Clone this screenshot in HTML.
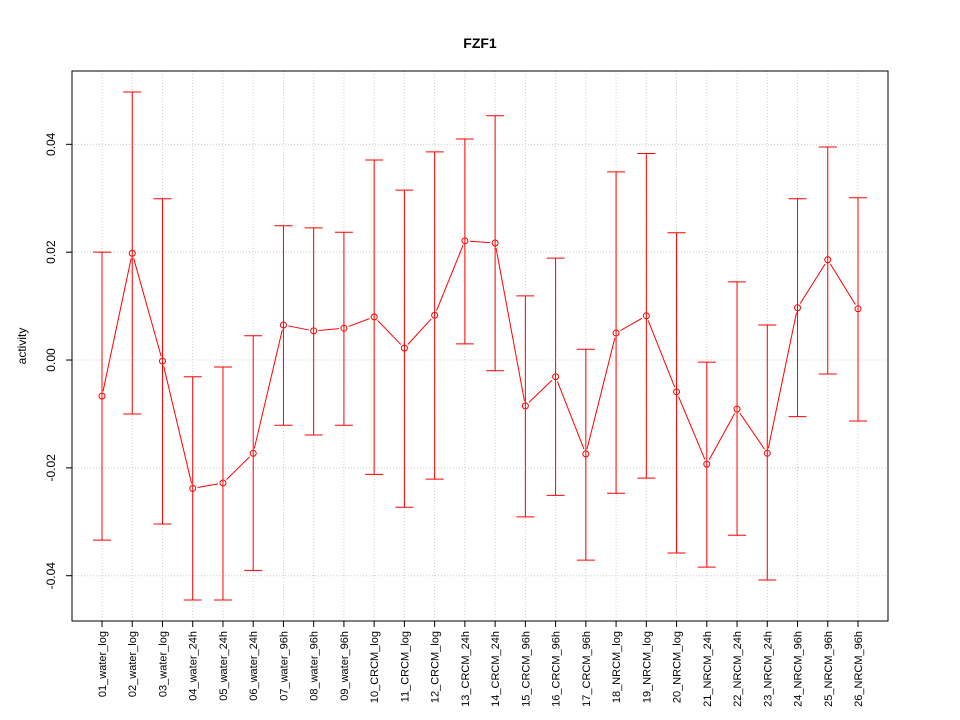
<!DOCTYPE html>
<html><head><meta charset="utf-8"><style>
body{margin:0;background:#fff}
svg{display:block;font-family:"Liberation Sans",sans-serif}
</style></head><body>
<svg id="chart" width="960" height="720" viewBox="0 0 960 720" xmlns="http://www.w3.org/2000/svg">
<rect width="960" height="720" fill="#fff"/>
<text x="480" y="48" text-anchor="middle" font-size="14" font-weight="bold">FZF1</text>
<g id="grid"></g>
<g id="series"></g>
<g id="axes"></g>
<rect x="72" y="71" width="816" height="550" fill="none" stroke="#000" stroke-width="1"/>
<text transform="translate(26,346) rotate(-90)" text-anchor="middle" font-size="12">activity</text>
</svg>
<script>
const categories=["01_water_log","02_water_log","03_water_log","04_water_24h","05_water_24h","06_water_24h","07_water_96h","08_water_96h","09_water_96h","10_CRCM_log","11_CRCM_log","12_CRCM_log","13_CRCM_24h","14_CRCM_24h","15_CRCM_96h","16_CRCM_96h","17_CRCM_96h","18_NRCM_log","19_NRCM_log","20_NRCM_log","21_NRCM_24h","22_NRCM_24h","23_NRCM_24h","24_NRCM_96h","25_NRCM_96h","26_NRCM_96h"];
const means=[-0.0067,0.0198,-0.0002,-0.0238,-0.0228,-0.0173,0.0065,0.0054,0.0059,0.0080,0.0022,0.0083,0.0221,0.0217,-0.0085,-0.0031,-0.0174,0.0050,0.0082,-0.0059,-0.0193,-0.0091,-0.0173,0.0097,0.0186,0.0095];
const uppers=[0.0200,0.0497,0.0299,-0.0031,-0.0013,0.0045,0.0249,0.0245,0.0237,0.0371,0.0315,0.0386,0.0410,0.0453,0.0119,0.0189,0.0020,0.0349,0.0383,0.0236,-0.0004,0.0145,0.0065,0.0299,0.0395,0.0301];
const lowers=[-0.0334,-0.0100,-0.0304,-0.0445,-0.0445,-0.0390,-0.0121,-0.0139,-0.0121,-0.0212,-0.0273,-0.0221,0.0030,-0.0020,-0.0291,-0.0251,-0.0371,-0.0247,-0.0219,-0.0358,-0.0384,-0.0325,-0.0408,-0.0105,-0.0026,-0.0113];
const yTicks=[-0.04,-0.02,0.00,0.02,0.04];
const yTickLabels=["-0.04","-0.02","0.00","0.02","0.04"];

const NS="http://www.w3.org/2000/svg";
const x0=102,x1=858,yTop=71,yBot=621,vTop=0.0536,vBot=-0.0484;
const xs=i=>x0+(x1-x0)*i/(categories.length-1);
const ys=v=>yTop+(vTop-v)/(vTop-vBot)*(yBot-yTop);
function mk(tag,attrs,parent){const e=document.createElementNS(NS,tag);for(const k in attrs)e.setAttribute(k,attrs[k]);parent.appendChild(e);return e;}
const grid=document.getElementById('grid'),ser=document.getElementById('series'),ax=document.getElementById('axes');
categories.forEach((c,i)=>{
  const g=mk('line',{x1:xs(i),x2:xs(i),y1:yTop,y2:yBot,stroke:'#ccc','stroke-dasharray':'1,2'},grid);
  
  
  const t=mk('line',{x1:xs(i),x2:xs(i),y1:yBot,y2:yBot+6,stroke:'#000'},ax);
  
  
  const l=mk('text',{x:0,y:0,transform:`translate(${xs(i)+4},${yBot+10}) rotate(-90)`,'text-anchor':'end','font-size':'11'},ax);
  l.textContent=c;
  
  
});
yTicks.forEach((v,i)=>{
  const g=mk('line',{x1:72,x2:888,y1:ys(v),y2:ys(v),stroke:'#ccc','stroke-dasharray':'1,2'},grid);
  
  
  const t=mk('line',{x1:66,x2:72,y1:ys(v),y2:ys(v),stroke:'#000'},ax);
  
  
  const l=mk('text',{x:0,y:0,transform:`translate(55,${ys(v)}) rotate(-90)`,'text-anchor':'middle','font-size':'12'},ax);
  l.textContent=yTickLabels[i];
  
  
});
for(let i=0;i<means.length-1;i++){
  const ax1=xs(i),ay1=ys(means[i]),bx=xs(i+1),by=ys(means[i+1]);
  const dx=bx-ax1,dy=by-ay1,d=Math.hypot(dx,dy),g=5;
  if(d>2*g){
    const s=mk('line',{x1:ax1+dx*g/d,y1:ay1+dy*g/d,x2:bx-dx*g/d,y2:by-dy*g/d,stroke:'#f00','stroke-width':1},ser);
    
    
  }
}
categories.forEach((c,i)=>{
  const x=xs(i);
  const eb=mk('path',{d:`M${x},${ys(lowers[i])}V${ys(uppers[i])}M${x-9},${ys(uppers[i])}H${x+9}M${x-9},${ys(lowers[i])}H${x+9}`,stroke:'#f00',fill:'none','stroke-width':1},ser);
  
  
  const p=mk('circle',{cx:x,cy:ys(means[i]),r:3,fill:'none',stroke:'#f00','stroke-width':1},ser);
  
  
});
</script>
</body></html>
